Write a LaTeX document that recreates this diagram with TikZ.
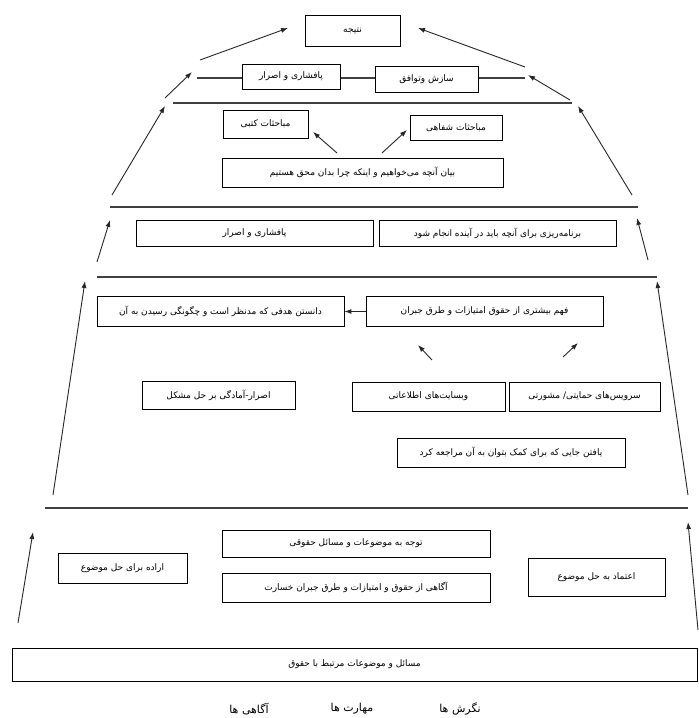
\documentclass[tikz,border=0pt]{standalone}
\usepackage{fontspec}
\newfontfamily\arabicfont[Script=Arabic]{DejaVu Sans}
\TeXXeTstate=1
\usetikzlibrary{arrows.meta}
\newcommand{\rtltxt}[1]{\beginR #1\endR}
\begin{document}
\begin{tikzpicture}[x=1pt,y=-1pt,
  box/.style={draw=black, line width=0.8pt, fill=white, inner sep=0pt,
    font=\arabicfont\fontsize{9}{11}\selectfont},
  level/.style={draw=black!75, line width=1.3pt},
  up/.style={draw=black!85, -{Latex[length=7pt,width=5pt]}, line width=0.9pt},
  legend/.style={inner sep=0pt, font=\arabicfont\fontsize{11}{13}\selectfont},
]
\useasboundingbox (0,0) rectangle (699,718);

% level lines
\coordinate (Al) at (197,78);  \coordinate (Ar) at (525,78);
\coordinate (Bl) at (173,103); \coordinate (Br) at (572,103);
\coordinate (Cl) at (110,207); \coordinate (Cr) at (638,207);
\coordinate (Dl) at (97,277);  \coordinate (Dr) at (657,277);
\coordinate (El) at (45,508);  \coordinate (Er) at (688,508);
\draw[level] (Al) -- (Ar);
\draw[level] (Bl) -- (Br);
\draw[level] (Cl) -- (Cr);
\draw[level] (Dl) -- (Dr);
\draw[level] (El) -- (Er);

% boxes
\node[box, minimum width=95pt,  minimum height=31pt] (res)   at (352.5,30.5) {\rtltxt{نتیجه}};
\node[box, minimum width=98pt,  minimum height=25pt] (pa1)   at (291,76.5)   {\rtltxt{پافشاری و اصرار}};
\node[box, minimum width=103pt, minimum height=26pt] (saz)   at (426.5,79)   {\rtltxt{سازش وتوافق}};
\node[box, minimum width=85pt,  minimum height=28pt] (kat)   at (265.5,124)  {\rtltxt{مباحثات کتبی}};
\node[box, minimum width=92pt,  minimum height=25pt] (shaf)  at (456,127.5)  {\rtltxt{مباحثات شفاهی}};
\node[box, minimum width=281pt, minimum height=29pt] (bayan) at (362.5,172.5) {\rtltxt{بیان آنچه می‌خواهیم و اینکه چرا بدان محق هستیم}};
\node[box, minimum width=237pt, minimum height=26pt] (pa2)   at (254.5,233)  {\rtltxt{پافشاری و اصرار}};
\node[box, minimum width=237pt, minimum height=26pt] (barn)  at (497.5,233)  {\rtltxt{برنامه‌ریزی برای آنچه باید در آینده انجام شود}};
\node[box, minimum width=247pt, minimum height=30pt] (dan)   at (220.5,311.5) {\rtltxt{دانستن هدفی که مدنظر است و چگونگی رسیدن به آن}};
\node[box, minimum width=237pt, minimum height=30pt] (fahm)  at (484.5,311.5) {\rtltxt{فهم بیشتری از حقوق امتیازات و طرق جبران}};
\node[box, minimum width=153pt, minimum height=28pt] (esr)   at (218.5,395)  {\rtltxt{اصرار-آمادگی بر حل مشکل}};
\node[box, minimum width=153pt, minimum height=29pt] (web)   at (428.5,396.5) {\rtltxt{وبسایت‌های اطلاعاتی}};
\node[box, minimum width=151pt, minimum height=29pt] (serv)  at (584.5,396.5) {\rtltxt{سرویس‌های حمایتی/ مشورتی}};
\node[box, minimum width=228pt, minimum height=29pt] (yaf)   at (511,452.5)  {\rtltxt{یافتن جایی که برای کمک بتوان به آن مراجعه کرد}};
\node[box, minimum width=268pt, minimum height=27pt] (tav)   at (356,543.5)  {\rtltxt{توجه به موضوعات و مسائل حقوقی}};
\node[box, minimum width=129pt, minimum height=30pt] (erade) at (122.5,568)  {\rtltxt{اراده برای حل موضوع}};
\node[box, minimum width=268pt, minimum height=29pt] (agah)  at (356,587.5)  {\rtltxt{آگاهی از حقوق و امتیازات و طرق جبران خسارت}};
\node[box, minimum width=137pt, minimum height=38pt] (etem)  at (596.5,577.5) {\rtltxt{اعتماد به حل موضوع}};
\node[box, minimum width=685pt, minimum height=33pt] (masa)  at (354.5,664.5) {\rtltxt{مسائل و موضوعات مرتبط با حقوق}};

% legend
\node[legend] (lg1) at (460,709) {\rtltxt{نگرش ها}};
\node[legend] (lg2) at (352,709) {\rtltxt{مهارت ها}};
\node[legend] (lg3) at (249,709) {\rtltxt{آگاهی ها}};

% inner arrows
\draw[up] (fahm.west) -- (dan.east);
\coordinate (b1t) at (337,153); \coordinate (b1h) at (313,132);
\coordinate (b2t) at (382,153); \coordinate (b2h) at (407,130);
\draw[up] (b1t) -- (b1h);
\draw[up] (b2t) -- (b2h);
\coordinate (w1t) at (432,360); \coordinate (w1h) at (418,345);
\coordinate (w2t) at (563,357); \coordinate (w2h) at (578,343);
\draw[up] (w1t) -- (w1h);
\draw[up] (w2t) -- (w2h);

% side arrows
\coordinate (t1) at (200,60);  \coordinate (h1) at (288,28);
\coordinate (t2) at (525,67);  \coordinate (h2) at (418,28);
\draw[up] (t1) -- (h1);
\draw[up] (t2) -- (h2);
\coordinate (t3) at (165,98);  \coordinate (h3) at (192,72);
\coordinate (t4) at (570,100); \coordinate (h4) at (528,75);
\draw[up] (t3) -- (h3);
\draw[up] (t4) -- (h4);
\coordinate (t5) at (112,195); \coordinate (h5) at (165,106);
\coordinate (t6) at (632,195); \coordinate (h6) at (578,106);
\draw[up] (t5) -- (h5);
\draw[up] (t6) -- (h6);
\coordinate (t7) at (97,262);  \coordinate (h7) at (110,220);
\coordinate (t8) at (648,260); \coordinate (h8) at (637,218);
\draw[up] (t7) -- (h7);
\draw[up] (t8) -- (h8);
\coordinate (t9) at (53,495);  \coordinate (h9) at (85,281);
\coordinate (t10) at (688,495); \coordinate (h10) at (657,281);
\draw[up] (t9) -- (h9);
\draw[up] (t10) -- (h10);
\coordinate (t11) at (18,623); \coordinate (h11) at (33,532);
\coordinate (t12) at (698,630); \coordinate (h12) at (688,522);
\draw[up] (t11) -- (h11);
\draw[up] (t12) -- (h12);
\end{tikzpicture}
\end{document}
